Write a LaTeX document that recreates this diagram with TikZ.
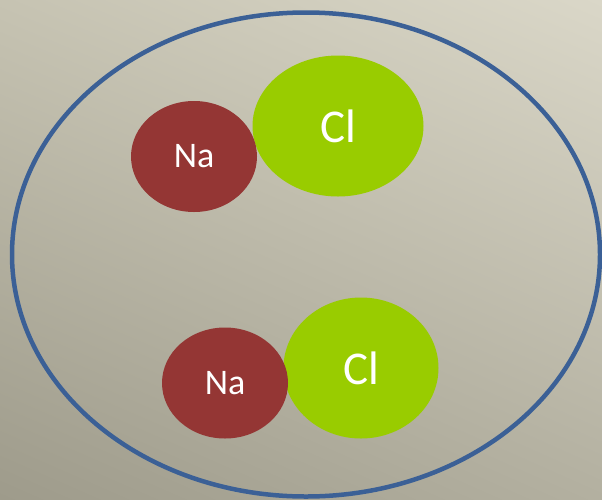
\documentclass[tikz,border=0pt]{standalone}
\usepackage{fontspec}
\setmainfont{Carlito}
\usetikzlibrary{shapes.geometric, shadings}
\definecolor{naRed}{HTML}{943634}
\definecolor{clGreen}{HTML}{99CC00}
\definecolor{rimBlue}{HTML}{3B6096}
\definecolor{bgUL}{HTML}{C6C3B2}
\definecolor{bgUR}{HTML}{DAD7C8}
\definecolor{bgLL}{HTML}{9E9B8B}
\definecolor{bgLR}{HTML}{B3B0A0}
\tikzset{
  atom/.style={ellipse, inner sep=0pt, text=white},
  sodium/.style={atom, fill=naRed, minimum width=126pt, minimum height=111pt, font=\fontsize{36}{40}\selectfont},
  chlorine/.style={atom, fill=clGreen, font=\fontsize{47}{52}\selectfont},
}
\begin{document}
\begin{tikzpicture}[x=1pt, y=-1pt]
  % background
  \shade[upper left=bgUL, upper right=bgUR, lower left=bgLL, lower right=bgLR]
    (0,0) rectangle (602,499);
  \useasboundingbox (0,0) rectangle (602,499);
  % container
  \node[ellipse, draw=rimBlue, line width=4.5pt, minimum width=588pt, minimum height=484pt, inner sep=0pt] (vessel) at (306,254.5) {};
  % first pair
  \node[chlorine, minimum width=171pt, minimum height=141pt] (cl1) at (338,126) {Cl};
  \node[sodium] (na1) at (194,156.5) {Na};
  % second pair
  \node[chlorine, minimum width=155pt, minimum height=141pt] (cl2) at (361,368) {Cl};
  \node[sodium] (na2) at (225,383) {Na};
\end{tikzpicture}
\end{document}
